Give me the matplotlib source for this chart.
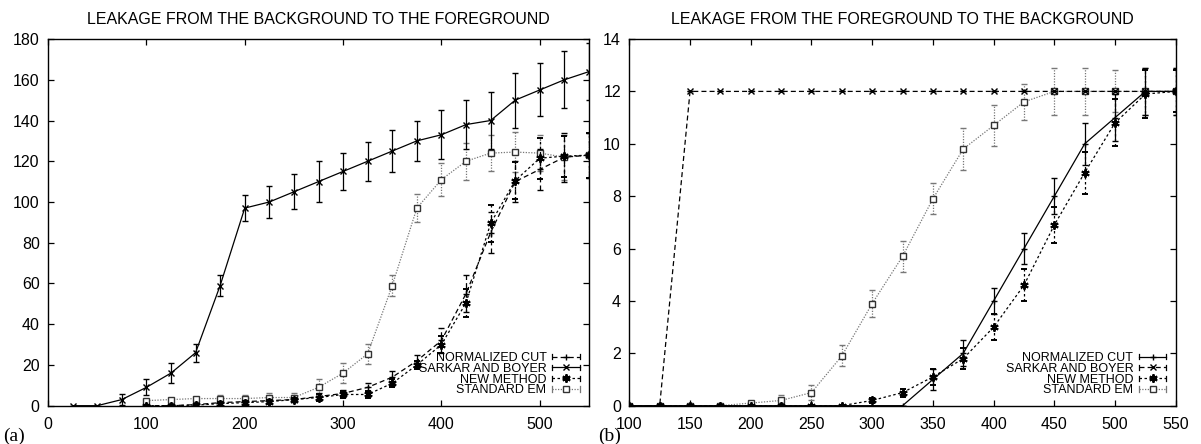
import numpy as np
import matplotlib
matplotlib.use('Agg')
import matplotlib.pyplot as plt
from matplotlib.lines import Line2D
from matplotlib.legend_handler import HandlerBase

plt.rcParams['font.family'] = ['Liberation Sans', 'DejaVu Sans']

# --- dades (a): del fons cap al primer pla ---
xa_sarkar = [25, 50, 75, 100, 125, 150, 175, 200, 225, 250, 275, 300, 325, 350, 375, 400, 425, 450, 475, 500, 525, 550]
sarkar_a = [0, 0, 3, 9, 16, 26, 59, 97, 100, 105, 110, 115, 120, 125, 130, 133, 138, 140, 150, 155, 160, 164]
sarkar_a_err = [0, 0, 2.5, 4, 5, 4.5, 5, 6.5, 8, 8.5, 10, 9, 9.5, 10.5, 10, 12, 12, 14, 13.5, 13, 14, 14]

xa = [100, 125, 150, 175, 200, 225, 250, 275, 300, 325, 350, 375, 400, 425, 450, 475, 500, 525, 550]
ncut_a = [0, 0, 0.5, 1.5, 2, 2.5, 3, 4.5, 6, 9, 14, 22, 32, 55, 85, 110, 116, 122, 123]
ncut_a_err = [0.5, 0.5, 0.5, 1, 1, 1, 1, 1.5, 1.5, 2, 3, 3, 6, 9, 10, 10, 10, 12, 11]
new_a = [0, 0, 0.3, 1, 1.5, 2, 3, 4, 5.5, 5.5, 11, 20, 30, 50.5, 89.5, 110.5, 121.5, 122.5, 123]
new_a_err = [0.5, 0.5, 0.5, 1, 1, 1, 1, 1.5, 1.5, 1.5, 2, 2, 4, 7, 9, 9, 10, 10, 11]
em_a = [2.5, 3, 3.5, 3.5, 3.5, 4, 4, 9, 16, 25.5, 59, 97, 111, 120, 124, 124.5, 124, 122, 123]
em_a_err = [1, 1, 1, 1.5, 1.5, 2, 2, 4, 5, 5, 5, 7, 8, 9, 9, 10, 9, 11, 11]

# --- dades (b): del primer pla cap al fons ---
xb = [100, 125, 150, 175, 200, 225, 250, 275, 300, 325, 350, 375, 400, 425, 450, 475, 500, 525, 550]
ncut_b = [0, 0, 0, 0, 0, 0, 0, 0, 0, 0, 1, 2, 4, 6, 8, 10, 11, 12, 12]
ncut_b_err = [0, 0, 0, 0, 0, 0, 0, 0, 0, 0, 0.4, 0.5, 0.5, 0.6, 0.7, 0.8, 0.9, 0.9, 0.9]
sarkar_b = [0, 0, 12, 12, 12, 12, 12, 12, 12, 12, 12, 12, 12, 12, 12, 12, 12, 12, 12]
sarkar_b_err = [0, 0, 0, 0, 0, 0, 0, 0, 0, 0, 0, 0, 0, 0, 0, 0, 0, 0, 0]
new_b = [0, 0, 0, 0, 0, 0, 0, 0, 0.2, 0.5, 1.1, 1.8, 3, 4.6, 6.9, 8.9, 10.8, 11.9, 12]
new_b_err = [0, 0, 0, 0, 0, 0, 0, 0, 0.1, 0.15, 0.3, 0.4, 0.5, 0.6, 0.7, 0.8, 0.9, 0.9, 0.8]
em_b = [0, 0, 0, 0, 0.1, 0.2, 0.5, 1.9, 3.9, 5.7, 7.9, 9.8, 10.7, 11.6, 12, 12, 12, 12, 12]
em_b_err = [0, 0, 0, 0, 0.05, 0.2, 0.3, 0.4, 0.5, 0.6, 0.6, 0.8, 0.8, 0.7, 0.9, 0.9, 0.8, 0.9, 0.9]

labels = ['NORMALIZED CUT', 'SARKAR AND BOYER', 'NEW METHOD', 'STANDARD EM']

# estils tipus gnuplot
SOLID = dict(color='black', linestyle='-', lw=0.9)
DASH = dict(color='black', linestyle=(0, (4, 2.5)), lw=0.9)
DOTDASH = dict(color='black', linestyle=(0, (2, 2)), lw=0.9)
DOT = dict(color='#777777', linestyle=(0, (1, 1.2)), lw=0.9)

M_PLUS = dict(marker='+', markersize=5, markeredgewidth=1.0, markeredgecolor='black')
M_X = dict(marker='x', markersize=4.5, markeredgewidth=1.0, markeredgecolor='black')
M_STAR = dict(marker=(6, 2, 0), markersize=6, markeredgewidth=1.4, markeredgecolor='black')
M_SQ = dict(marker='s', markersize=4.5, markeredgewidth=1.0, markeredgecolor='#333333',
            markerfacecolor='white')


class GnuHandler(HandlerBase):
    # mostra de llegenda: línia amb marques d'error als extrems i el símbol al mig
    def create_artists(self, legend, orig_handle, xdescent, ydescent,
                       width, height, fontsize, trans):
        y = height / 2 - ydescent
        x0, x1 = -xdescent, -xdescent + width
        line = Line2D([x0, x1], [y, y])
        line.update_from(orig_handle)
        line.set_marker('None')
        c = height * 0.3
        caps = Line2D([x0, x0, np.nan, x1, x1], [y - c, y + c, np.nan, y - c, y + c])
        caps.update_from(orig_handle)
        caps.set_marker('None')
        caps.set_linestyle('-')
        mark = Line2D([(x0 + x1) / 2], [y])
        mark.update_from(orig_handle)
        mark.set_linestyle('None')
        for a in (line, caps, mark):
            a.set_transform(trans)
        return [line, caps, mark]


def serie(ax, x, y, err, ls, mk, z):
    eb = ax.errorbar(x, y, yerr=err, capsize=2.5, capthick=ls['lw'], elinewidth=ls['lw'],
                     ecolor=ls['color'], zorder=z, **ls, **mk)
    for c in eb[2]:
        c.set_linestyle(ls['linestyle'])
    return Line2D([], [], **ls, **mk)


def estil_eixos(ax):
    for s in ax.spines.values():
        s.set_linewidth(1.0)
    ax.tick_params(direction='in', top=True, right=True, length=4, width=0.9,
                   labelsize=11.5, pad=6)
    ax.tick_params(axis='x', pad=8)


fig = plt.figure(figsize=(12.01, 4.44), dpi=100)
ax1 = fig.add_axes([0.040, 0.0863, 0.4504, 0.8258])
ax2 = fig.add_axes([0.524, 0.0863, 0.455, 0.8258])

# (a)
h1 = [serie(ax1, xa, ncut_a, ncut_a_err, DASH, M_PLUS, 3),
      serie(ax1, xa_sarkar, sarkar_a, sarkar_a_err, SOLID, M_X, 4),
      serie(ax1, xa, new_a, new_a_err, DOTDASH, M_STAR, 3),
      serie(ax1, xa, em_a, em_a_err, DOT, M_SQ, 2)]
ax1.set_xlim(0, 550)
ax1.set_ylim(0, 180)
ax1.set_xticks([0, 100, 200, 300, 400, 500])
ax1.set_yticks(range(0, 181, 20))
ax1.set_title('LEAKAGE FROM THE BACKGROUND TO THE FOREGROUND', fontsize=11.5, pad=11)

# (b)
h2 = [serie(ax2, xb, ncut_b, ncut_b_err, SOLID, M_PLUS, 4),
      serie(ax2, xb, sarkar_b, sarkar_b_err, DASH, M_X, 3),
      serie(ax2, xb, new_b, new_b_err, DOTDASH, M_STAR, 3),
      serie(ax2, xb, em_b, em_b_err, DOT, M_SQ, 2)]
ax2.set_xlim(100, 550)
ax2.set_ylim(0, 14)
ax2.set_xticks(range(100, 551, 50))
ax2.set_yticks(range(0, 15, 2))
ax2.set_title('LEAKAGE FROM THE FOREGROUND TO THE BACKGROUND', fontsize=11.5, pad=11)

for ax, hs in ((ax1, h1), (ax2, h2)):
    estil_eixos(ax)
    ax.legend(hs, labels, loc='lower right', frameon=False, markerfirst=False,
              alignment='right', fontsize=9, handlelength=2.2, handletextpad=0.45,
              labelspacing=-0.1, borderpad=0.15, borderaxespad=0.6,
              handler_map={Line2D: GnuHandler()})

fig.text(0.003, 0.008, '(a)', fontsize=14, family='Liberation Serif')
fig.text(0.498, 0.008, '(b)', fontsize=14, family='Liberation Serif')

fig.savefig('out.png', dpi=100)
